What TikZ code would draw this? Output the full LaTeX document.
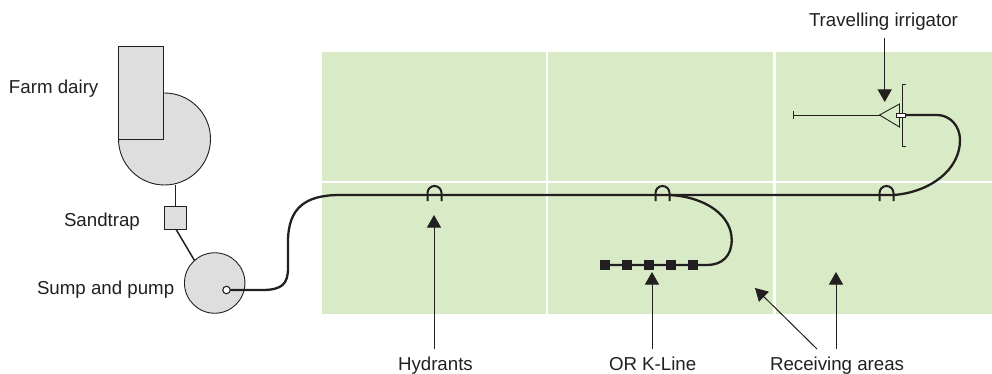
\documentclass[tikz,border=0pt]{standalone}
\usepackage{fontspec}
\setmainfont{Liberation Sans}
\usetikzlibrary{arrows.meta}
\definecolor{ink}{HTML}{231F20}
\definecolor{field}{HTML}{D8EBC6}
\definecolor{tank}{HTML}{DEDEDE}
\tikzset{
  x=1pt,y=-1pt,
  every node/.style={inner sep=0pt,outer sep=0pt},
  lbl/.style={font=\fontsize{18.7}{20}\selectfont,text=ink,anchor=base west},
  fieldbox/.style={fill=field,draw=none},
  gap/.style={draw=white,line width=2.6pt},
  tankshape/.style={draw=ink,fill=tank,line width=0.9pt},
  link/.style={draw=ink,line width=1.5pt},
  pipe/.style={draw=ink,line width=2.3pt},
  thin line/.style={draw=ink,line width=0.9pt},
  arch/.style={draw=ink,line width=2pt},
  pointer/.style={draw=ink,line width=1pt,-{Triangle[length=12.5pt,width=14pt,fill=ink]}},
  stud/.style={fill=ink,minimum size=10pt,shape=rectangle},
}
\begin{document}
\begin{tikzpicture}
\useasboundingbox (0,0) rectangle (992,374);
% fields
\fill[fieldbox] (322,52) rectangle (992,314);
\draw[gap] (547,52) -- (547,314);
\draw[gap] (774.5,52) -- (774.5,314);
\draw[gap] (322,182) -- (992,182);
% dairy
\node[tankshape,shape=circle,minimum size=92pt] (yard) at (164.5,139) {};
\node[tankshape,shape=rectangle,minimum width=45pt,minimum height=93.5pt] (dairy) at (141,92.8) {};
\node[tankshape,line width=1.2pt,shape=rectangle,minimum size=22.4pt] (trap) at (175.5,218) {};
\node[tankshape,shape=circle,minimum size=60.5pt] (sump) at (214.7,283) {};
\node[draw=ink,fill=white,line width=1.1pt,shape=circle,minimum size=7.5pt] (outlet) at (226.5,290) {};
\draw[link] (yard.south -| trap.north) -- (trap.north);
\coordinate (trapout) at (176,229.3);
\coordinate (sumpin) at (194.5,260.5);
\draw[link] (trapout) -- (sumpin);
% main pipe
\coordinate (p2) at (288,268);
\coordinate (p3) at (288,242);
\coordinate (p4) at (340,195);
\coordinate (p5) at (894,195);
\coordinate (p6) at (960,140);
\coordinate (p7) at (937,115);
\coordinate (nozzle) at (905,115);
\draw[pipe] (outlet.east) -- (262,290) .. controls (282,290) and (288,284) .. (p2) -- (p3)
  .. controls (288,208) and (305,195) .. (p4) -- (p5)
  .. controls (930,192) and (960,170) .. (p6)
  .. controls (960,126) and (950,115) .. (p7) -- (nozzle);
% K-line branch
\coordinate (b0) at (670,195);
\coordinate (b1) at (731.7,240);
\coordinate (b2) at (707,265);
\node[stud] (s1) at (605,265) {};
\node[stud] (s2) at (627,265) {};
\node[stud] (s3) at (649,265) {};
\node[stud] (s4) at (671,265) {};
\node[stud] (s5) at (693,265) {};
\draw[pipe] (b0) .. controls (705,197) and (731.7,215) .. (b1)
  .. controls (731.7,256) and (722,265) .. (b2) -- (s1.center);
% hydrants
\foreach \n/\x in {ha/434.5,hb/662.5,hc/886.5}{
  \coordinate (\n) at (\x,193);
  \draw[arch] ([xshift=-7pt,yshift=-8pt]\n) -- ([xshift=-7pt]\n) arc[start angle=180,end angle=0,radius=7pt,y=1pt] -- ([xshift=7pt,yshift=-8pt]\n);
}
% irrigator
\coordinate (boomend) at (793,115);
\draw[thin line] (793,111) -- (793,119);
\coordinate (tipT) at (879.5,115);
\draw[thin line] (boomend) -- (tipT);
\draw[thin line,fill=field] (tipT) -- (899.5,104) -- (899.5,127) -- cycle;
\draw[thin line] (906,84) -- (902,84) -- (902,146) -- (906,146);
\node[draw=ink,fill=white,line width=0.9pt,shape=rectangle,minimum width=9pt,minimum height=4.5pt] (cart) at (900.5,115.3) {};
% labels
\node[lbl] (l1) at (809,27) {Travelling irrigator};
\node[lbl] (l2) at (9,94) {Farm dairy};
\node[lbl] (l3) at (64,226) {Sandtrap};
\node[lbl] (l4) at (37,294) {Sump and pump};
\node[lbl] (l5) at (398,370) {Hydrants};
\node[lbl] (l6) at (609,370) {OR K-Line};
\node[lbl] (l7) at (770,370) {Receiving areas};
% pointers
\coordinate (a1s) at (884.7,38);  \coordinate (a1e) at (884.7,102);
\coordinate (a2s) at (434,349);   \coordinate (a2e) at (434,215);
\coordinate (a3s) at (652,349);   \coordinate (a3e) at (652,272);
\coordinate (a4s) at (817,349);   \coordinate (a4e) at (755,288);
\coordinate (a5s) at (836,349);   \coordinate (a5e) at (836,272);
\foreach \a in {a1,a2,a3,a4,a5} \draw[pointer] (\a s) -- (\a e);
\end{tikzpicture}
\end{document}
